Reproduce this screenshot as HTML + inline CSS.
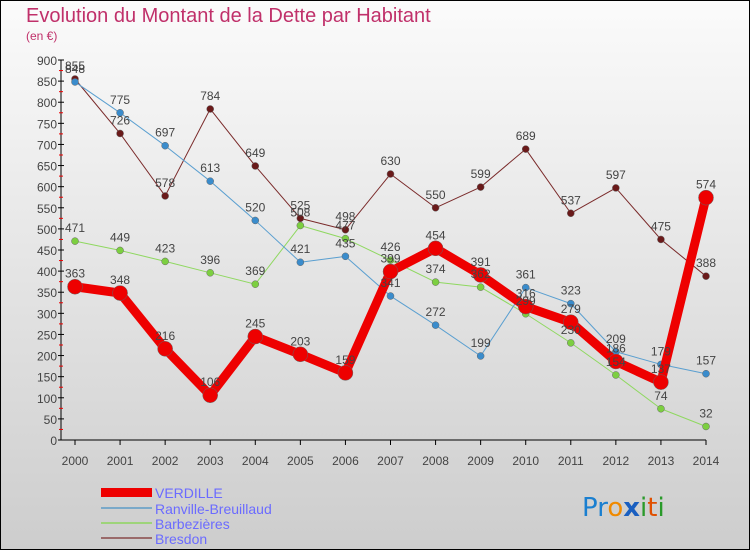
<!DOCTYPE html>
<html><head><meta charset="utf-8"><style>
body{margin:0;width:750px;height:550px;overflow:hidden;font-family:"Liberation Sans",sans-serif}
svg{display:block}
</style></head><body>
<svg id="chart" width="750" height="550" xmlns="http://www.w3.org/2000/svg">
<defs><linearGradient id="bg" x1="0" y1="0" x2="0" y2="1"><stop offset="0" stop-color="#fbfbfb"/><stop offset="1" stop-color="#cdcdcd"/></linearGradient></defs>
<rect x="0.5" y="0.5" width="749" height="549" fill="url(#bg)" stroke="#000"/>
<text x="26" y="22" font-size="20" fill="#c0306a">Evolution du Montant de la Dette par Habitant</text>
<text x="26" y="40" font-size="12" fill="#c0306a">(en €)</text>
<g id="axes"></g>
<g id="series"></g>
<g id="labels"></g>
<g id="legend">
<rect x="101" y="488" width="51" height="9" fill="#e00"/>
<text x="155" y="498" font-size="14" fill="#6b6bff">VERDILLE</text>
<rect x="101" y="507" width="51" height="2" fill="#7aa9c9"/>
<text x="155" y="514" font-size="14" fill="#6b6bff">Ranville-Breuillaud</text>
<rect x="101" y="522" width="51" height="2" fill="#9ed47a"/>
<text x="155" y="529" font-size="14" fill="#6b6bff">Barbezières</text>
<rect x="101" y="537" width="51" height="2" fill="#9a6a6a"/>
<text x="155" y="544" font-size="14" fill="#6b6bff">Bresdon</text>
</g>
<g font-size="26" font-family="'DejaVu Sans',sans-serif">
<text x="582" y="516"><tspan fill="#1a7fd0">Pr</tspan><tspan fill="#f08a00">o</tspan><tspan fill="#1a5fc0" font-weight="bold">x</tspan><tspan fill="#2a9a2a">i</tspan><tspan fill="#e05000">t</tspan><tspan fill="#2a9a2a">i</tspan></text>
</g>
</svg>
<script>
const years=[2000,2001,2002,2003,2004,2005,2006,2007,2008,2009,2010,2011,2012,2013,2014];
const yTicks=[0,50,100,150,200,250,300,350,400,450,500,550,600,650,700,750,800,850,900];
const verdille=[363,348,216,106,245,203,159,399,454,391,316,279,186,137,574];
const ranville=[848,775,697,613,520,421,435,341,272,199,361,323,209,179,157];
const barbezieres=[471,449,423,396,369,508,477,426,374,362,299,230,154,74,32];
const bresdon=[855,726,578,784,649,525,498,630,550,599,689,537,597,475,388];
const NS="http://www.w3.org/2000/svg";
const x0=75,x1=706,yb=440,yt=60,ymax=900;
const X=i=>x0+(x1-x0)*i/(years.length-1);
const Y=v=>yb-(yb-yt)*v/ymax;
function mk(tag,attrs,parent){const e=document.createElementNS(NS,tag);for(const k in attrs)e.setAttribute(k,attrs[k]);parent.appendChild(e);return e;}
const ax=document.getElementById('axes');
let l=mk('line',{x1:61,y1:yt,x2:61,y2:yb,stroke:'#000'},ax);


l=mk('line',{x1:61,y1:yb,x2:x1,y2:yb,stroke:'#000'},ax);


yTicks.forEach((v,i)=>{
  mk('line',{x1:58,y1:Y(v),x2:64,y2:Y(v),stroke:'#000'},ax);
  if(i<yTicks.length-1){mk('line',{x1:59,y1:Y(v+25),x2:63,y2:Y(v+25),stroke:'#e00'},ax);}
  const t=mk('text',{x:57,y:Y(v)+5,'font-size':12,'text-anchor':'end',fill:'#444'},ax);
  t.textContent=v;
  
  
});
years.forEach((yr,i)=>{
  mk('line',{x1:X(i),y1:yb,x2:X(i),y2:yb+5,stroke:'#000'},ax);
  const t=mk('text',{x:X(i),y:yb+25,'font-size':12,'text-anchor':'middle',fill:'#444'},ax);
  t.textContent=yr;
  
  
});
const sg=document.getElementById('series');
const lg=document.getElementById('labels');
function draw(data,name,color,w,r,stroke){
  const g=mk('g',{},sg);
  
  
  const p=mk('polyline',{points:data.map((v,i)=>X(i)+','+Y(v)).join(' '),fill:'none',stroke:color,'stroke-width':w,'stroke-linejoin':'round'},g);
  
  
  data.forEach((v,i)=>{
    const c=mk('circle',{cx:X(i),cy:Y(v),r:r,fill:stroke,stroke:'#666','stroke-width':0.5},g);
    
    
    const t=mk('text',{x:X(i),y:Y(v)-9,'font-size':12,'text-anchor':'middle',fill:'#444'},lg);
    t.textContent=v;
    
    
  });
}
draw(bresdon,'bresdon','#7a2a2a',1,3.5,'#6a1a1a');
draw(barbezieres,'barbezieres','#8fd860',1,3.5,'#7ccf40');
draw(ranville,'ranville-breuillaud','#5a9fd0',1,3.5,'#3a8ccc');
draw(verdille,'verdille','#ee0000',9,7.5,'#ee0000');
</script>
</body></html>
